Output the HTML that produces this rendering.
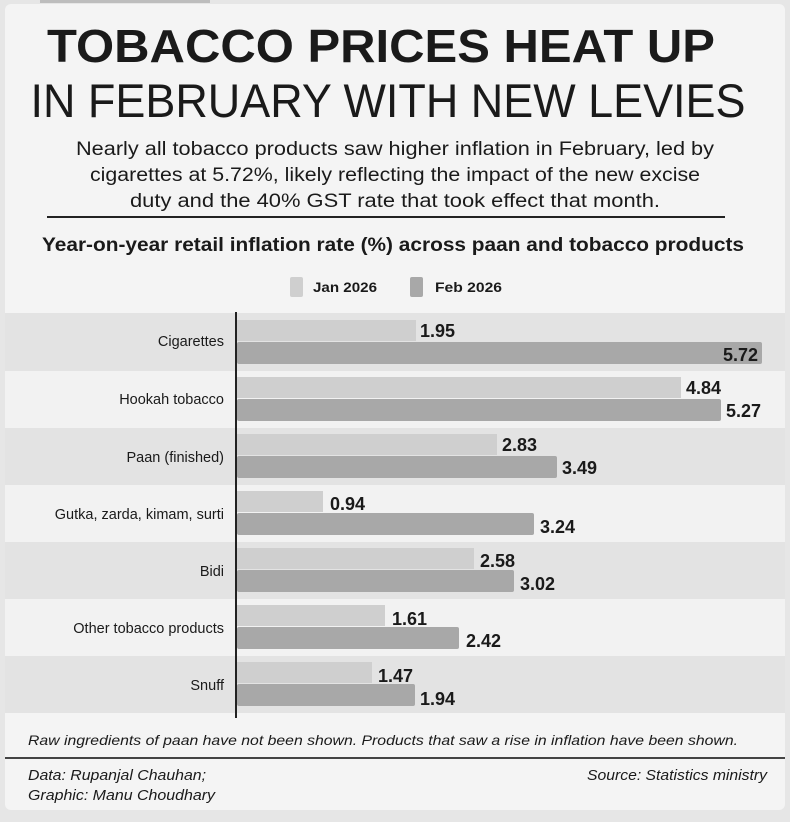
<!DOCTYPE html>
<html><head><meta charset="utf-8"><style>
html,body{margin:0;padding:0;background:#e8e8e8;}
svg{display:block}
text{font-family:"Liberation Sans",sans-serif;fill:#1a1a1a}
</style></head><body>
<svg width="790" height="822" viewBox="0 0 790 822" xmlns="http://www.w3.org/2000/svg">
<rect x="0" y="0" width="790" height="822" fill="#e6e6e6"/>
<rect x="5" y="4" width="780" height="806" rx="6" fill="#f4f4f4"/>
<rect x="40" y="0" width="170" height="3" fill="#bdbdbd"/>
<text x="381" y="62" text-anchor="middle" font-size="46" font-weight="bold" textLength="668" lengthAdjust="spacingAndGlyphs" fill="#111">TOBACCO PRICES HEAT UP</text>
<text x="388" y="117" text-anchor="middle" font-size="47" textLength="715" lengthAdjust="spacingAndGlyphs" fill="#111">IN FEBRUARY WITH NEW LEVIES</text>
<text x="395" y="155" text-anchor="middle" font-size="19" textLength="638" lengthAdjust="spacingAndGlyphs">Nearly all tobacco products saw higher inflation in February, led by</text>
<text x="395" y="181" text-anchor="middle" font-size="19" textLength="610" lengthAdjust="spacingAndGlyphs">cigarettes at 5.72%, likely reflecting the impact of the new excise</text>
<text x="395" y="207" text-anchor="middle" font-size="19" textLength="530" lengthAdjust="spacingAndGlyphs">duty and the 40% GST rate that took effect that month.</text>
<rect x="47" y="216" width="678" height="2" fill="#222"/>
<text x="393" y="251" text-anchor="middle" font-size="19" font-weight="bold" textLength="702" lengthAdjust="spacingAndGlyphs">Year-on-year retail inflation rate (%) across paan and tobacco products</text>
<rect x="290" y="277" width="13" height="20" rx="2" fill="#cfcfcf"/>
<text x="313" y="292" font-size="14" font-weight="bold" textLength="64" lengthAdjust="spacingAndGlyphs">Jan 2026</text>
<rect x="410" y="277" width="13" height="20" rx="2" fill="#a8a8a8"/>
<text x="435" y="292" font-size="14" font-weight="bold" textLength="67" lengthAdjust="spacingAndGlyphs">Feb 2026</text>

<g>
<rect x="5" y="313" width="780" height="58" fill="#e3e3e3"/>
<rect x="5" y="371" width="780" height="57" fill="#f2f2f2"/>
<rect x="5" y="428" width="780" height="57" fill="#e3e3e3"/>
<rect x="5" y="485" width="780" height="57" fill="#f2f2f2"/>
<rect x="5" y="542" width="780" height="57" fill="#e3e3e3"/>
<rect x="5" y="599" width="780" height="57" fill="#f2f2f2"/>
<rect x="5" y="656" width="780" height="57" fill="#e3e3e3"/>
</g>
<g font-size="14.5">
<text x="224" y="346" text-anchor="end">Cigarettes</text>
<text x="224" y="404" text-anchor="end">Hookah tobacco</text>
<text x="224" y="462" text-anchor="end">Paan (finished)</text>
<text x="224" y="519" text-anchor="end">Gutka, zarda, kimam, surti</text>
<text x="224" y="576" text-anchor="end">Bidi</text>
<text x="224" y="633" text-anchor="end">Other tobacco products</text>
<text x="224" y="690" text-anchor="end">Snuff</text>
</g>
<g>
<rect x="237" y="320" width="179" height="21" fill="#cfcfcf"/>
<rect x="237" y="342" width="525" height="22" rx="2" fill="#a8a8a8"/>
<rect x="237" y="377" width="444" height="21" fill="#cfcfcf"/>
<rect x="237" y="399" width="484" height="22" rx="2" fill="#a8a8a8"/>
<rect x="237" y="434" width="260" height="21" fill="#cfcfcf"/>
<rect x="237" y="456" width="320" height="22" rx="2" fill="#a8a8a8"/>
<rect x="237" y="491" width="86" height="21" fill="#cfcfcf"/>
<rect x="237" y="513" width="297" height="22" rx="2" fill="#a8a8a8"/>
<rect x="237" y="548" width="237" height="21" fill="#cfcfcf"/>
<rect x="237" y="570" width="277" height="22" rx="2" fill="#a8a8a8"/>
<rect x="237" y="605" width="148" height="21" fill="#cfcfcf"/>
<rect x="237" y="627" width="222" height="22" rx="2" fill="#a8a8a8"/>
<rect x="237" y="662" width="135" height="21" fill="#cfcfcf"/>
<rect x="237" y="684" width="178" height="22" rx="2" fill="#a8a8a8"/>
</g>
<rect x="235" y="312" width="2" height="406" fill="#222"/>
<g font-size="18" font-weight="bold" fill="#111">
<text x="420" y="337">1.95</text>
<text x="758" y="361" text-anchor="end" fill="#f2f2f2">5.72</text>
<text x="686" y="394">4.84</text>
<text x="726" y="417">5.27</text>
<text x="502" y="451">2.83</text>
<text x="562" y="474">3.49</text>
<text x="330" y="510">0.94</text>
<text x="540" y="533">3.24</text>
<text x="480" y="567">2.58</text>
<text x="520" y="590">3.02</text>
<text x="392" y="625">1.61</text>
<text x="466" y="647">2.42</text>
<text x="378" y="682">1.47</text>
<text x="420" y="705">1.94</text>
</g>
<text x="28" y="745" font-size="14" font-style="italic" textLength="710" lengthAdjust="spacingAndGlyphs" fill="#222">Raw ingredients of paan have not been shown. Products that saw a rise in inflation have been shown.</text>
<rect x="5" y="757" width="780" height="2" fill="#444"/>
<text x="28" y="780" font-size="15" font-style="italic" textLength="178" lengthAdjust="spacingAndGlyphs" fill="#222">Data: Rupanjal Chauhan;</text>
<text x="28" y="800" font-size="15" font-style="italic" textLength="187" lengthAdjust="spacingAndGlyphs" fill="#222">Graphic: Manu Choudhary</text>
<text x="767" y="780" font-size="15" font-style="italic" text-anchor="end" textLength="180" lengthAdjust="spacingAndGlyphs" fill="#222">Source: Statistics ministry</text>
</svg>
</body></html>
